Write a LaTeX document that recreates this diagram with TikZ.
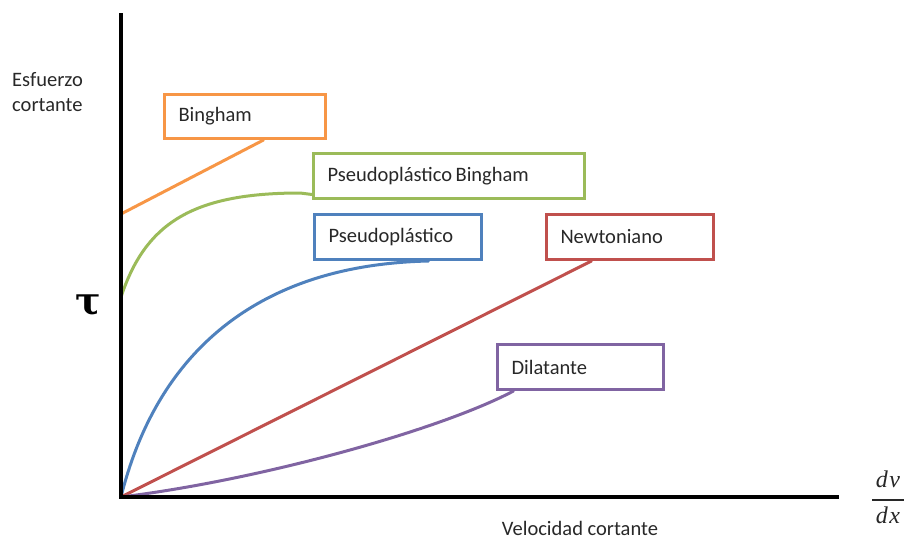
\documentclass[tikz,border=0pt]{standalone}
\usepackage{fontspec}
\setmainfont{Carlito}
\newfontfamily\taufont{DejaVu Serif}
\newfontfamily\fracfont{Liberation Serif}
\definecolor{cOrange}{RGB}{247,150,70}
\definecolor{cGreen}{RGB}{155,187,89}
\definecolor{cBlue}{RGB}{79,129,189}
\definecolor{cRed}{RGB}{192,80,77}
\definecolor{cPurple}{RGB}{128,100,162}
\definecolor{cText}{RGB}{40,40,40}
\tikzset{
  lblbox/.style={draw, line width=3pt, fill=white, anchor=north west, inner xsep=14pt, inner ysep=0pt,
     minimum height=44pt, align=left, text=cText, font=\fontsize{20.5}{24}\selectfont},
  curve/.style={line width=3pt, line cap=round},
  axisline/.style={line width=4.5pt, black},
  plaintext/.style={text=cText, inner sep=0pt, font=\fontsize{20.5}{24}\selectfont},
  fractext/.style={text=cText, inner sep=0pt, anchor=base, font=\fracfont\itshape\fontsize{24}{26}\selectfont}
}
\begin{document}
\begin{tikzpicture}[x=1pt,y=-1pt]
\useasboundingbox (0,0) rectangle (908,539);
% axes
\coordinate (ytop) at (121,13);
\coordinate (origin) at (121,497);
\coordinate (xend) at (839,497);
\coordinate (xstart) at (119,497);
\coordinate (ybing) at (121,214);
\coordinate (ypbing) at (121,297);
% boxes
\node[lblbox, draw=cOrange, text width=133pt] (bingham) at (163,93) {Bingham};
\node[lblbox, draw=cGreen, text width=243pt, minimum height=45pt] (pbing) at (312,152) {Pseudopl\'astico\hspace{3.5pt}Bingham};
\node[lblbox, draw=cBlue, text width=139pt, minimum height=45pt] (pseudo) at (313,213) {Pseudopl\'astico};
\node[lblbox, draw=cRed, text width=139pt, minimum height=45pt] (newt) at (545,213) {Newtoniano};
\node[lblbox, draw=cPurple, text width=138pt, minimum height=45pt] (dilat) at (496,343) {Dilatante};
% curves
\draw[curve, cOrange] (ybing) -- ([xshift=18.5pt]bingham.south);
\draw[curve, cGreen] (ypbing) .. controls (145,225) and (190,193) .. (300,193) -- ([yshift=-18.5pt]pbing.west);
\draw[curve, cBlue] (origin) .. controls (155,360) and (250,265) .. ([xshift=30.5pt]pseudo.south);
\draw[curve, cRed] (origin) -- ([xshift=-38.5pt]newt.south);
\draw[curve, cPurple] (origin) .. controls (260,480) and (440,430) .. ([xshift=-67pt]dilat.south);
% axes on top
\draw[axisline] (ytop) -- (origin);
\draw[axisline] (xstart) -- (xend);
% labels
\node[plaintext, anchor=west, align=left, font=\fontsize{20.5}{25}\selectfont] (esf) at (12,92) {Esfuerzo\\cortante};
\node[inner sep=0pt, text=black, font=\taufont\bfseries\fontsize{38}{38}\selectfont] (tau) at (88,305) {τ};
\node[plaintext, anchor=base] (vel) at (580,535) {Velocidad cortante};
\node[fractext] (dv) at (888,487) {d\kern1.5pt v};
\node[fractext] (dx) at (888,523) {d\kern1.5pt x};
\coordinate (barl) at (872,500);
\coordinate (barr) at (904,500);
\draw[cText, line width=1.3pt] (barl) -- (barr);
\end{tikzpicture}
\end{document}
